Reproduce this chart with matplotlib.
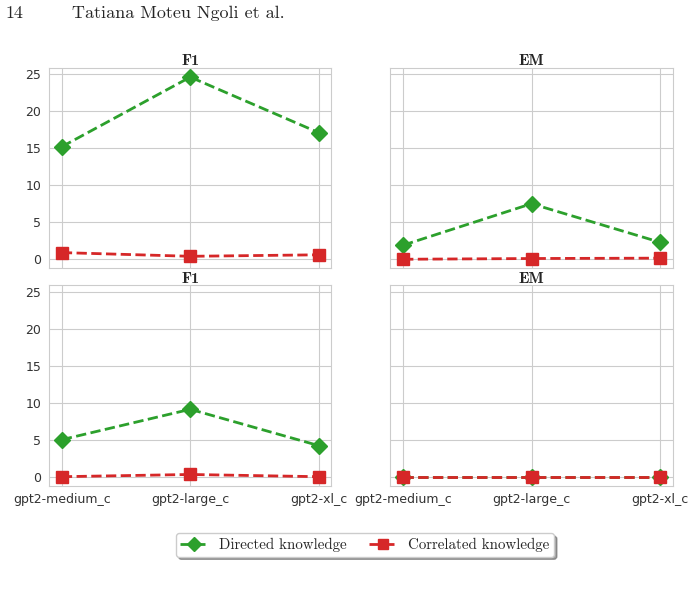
import matplotlib.pyplot as plt
import seaborn as sns

models = ['gpt2-medium_c', 'gpt2-large_c', 'gpt2-xl_c']
titles = ['F1', 'EM', 'F1', 'EM']

# directed / correlated knowledge, one list per panel (top-left, top-right, bottom-left, bottom-right)
directed = [
    [15.2, 24.6, 17.1],
    [1.9, 7.5, 2.3],
    [5.0, 9.1, 4.2],
    [0.0, 0.0, 0.0],
]
correlated = [
    [0.9, 0.4, 0.6],
    [0.0, 0.1, 0.15],
    [0.0, 0.3, 0.0],
    [0.0, 0.0, 0.0],
]

sns.set_style('whitegrid')
plt.rcParams['font.family'] = ['DejaVu Sans']

fig, axes = plt.subplots(2, 2, figsize=(6.95, 5.91), dpi=100, sharex=True, sharey=True)
fig.subplots_adjust(left=0.0705, right=0.968, top=0.885, bottom=0.178, wspace=0.208, hspace=0.085)

for i, ax in enumerate(axes.flat):
    ax.plot(models, directed[i], color='#2ca02c', linestyle='--', linewidth=2,
            marker='D', markersize=8, label='Directed knowledge')
    ax.plot(models, correlated[i], color='#d62728', linestyle='--', linewidth=2,
            marker='s', markersize=8, label='Correlated knowledge')
    ax.set_title(titles[i], fontfamily='cmb10', fontsize=11.5, pad=2, color='#262626')
    ax.tick_params(axis='both', labelsize=9, colors='#333333', pad=2)
    for s in ax.spines.values():
        s.set_color('0.8')

axes[0, 0].set_yticks([0, 5, 10, 15, 20, 25])

handles, labels = axes[0, 0].get_legend_handles_labels()
fig.legend(handles, labels, loc='center', bbox_to_anchor=(0.525, 0.078), ncol=2,
           shadow=True, frameon=True, prop={'family': 'cmr10', 'size': 10.8},
           handlelength=1.8, columnspacing=1.5, borderpad=0.3, markerscale=0.9)

fig.text(0.008, 0.978, '14', fontfamily='cmr10', fontsize=13, va='center')
fig.text(0.103, 0.978, 'Tatiana Moteu Ngoli et al.', fontfamily='cmr10', fontsize=13, va='center')

plt.savefig('out.png')
